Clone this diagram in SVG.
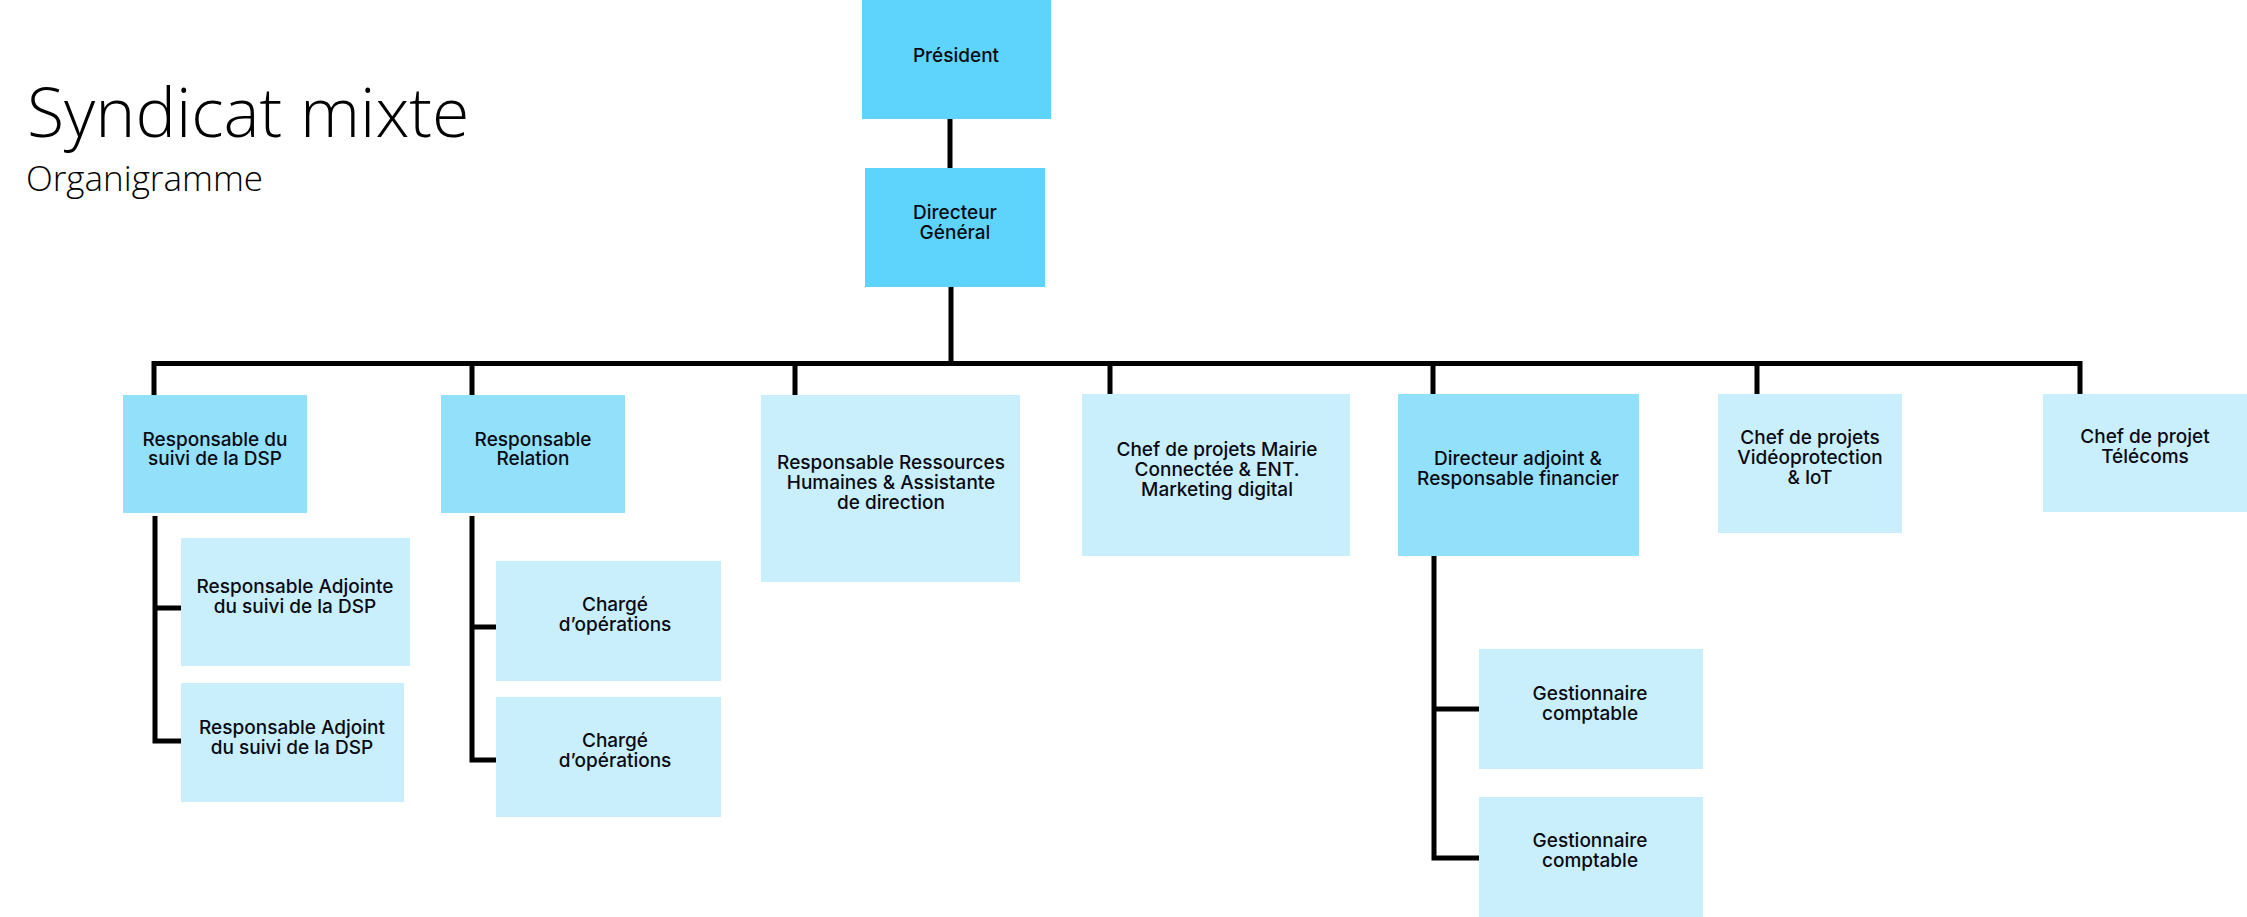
<svg xmlns="http://www.w3.org/2000/svg" width="2247" height="917" viewBox="0 0 2247 917">
<style>
.t{font-family:Inter,"Noto Sans","Liberation Sans",sans-serif;font-weight:500;font-size:19px;fill:#0a0a14;text-anchor:middle}
.l1{fill:#5ed4fd}
.l2{fill:#93e0fb}
.l3{fill:#c9effc}
.c{fill:none;stroke:#000;stroke-width:5;stroke-linejoin:miter;stroke-linecap:butt}
.title{font-family:"Open Sans","Noto Sans",sans-serif;font-weight:300;fill:#000}
</style>
<rect width="2247" height="917" fill="#fff"/>
<g id="title">
<text class="title" x="27" y="137" font-size="68">Syndicat mixte</text>
<text class="title" x="26" y="191" font-size="35">Organigramme</text>
</g>
<g id="connectors">
<path class="c" d="M950 119V168"/>
<path class="c" d="M951 287V363"/>
<path class="c" d="M154 395V363.5H2080V395"/>
<path class="c" d="M472 363V395M795 363V395M1110 363V395M1433 363V395M1757 363V395"/>
<path class="c" d="M155 516V741H181M155 608H181"/>
<path class="c" d="M472 516V760H496M472 627H496"/>
<path class="c" d="M1434 556V858H1479M1434 709H1479"/>
</g>
<g id="president"><rect class="l1" x="862" y="0" width="189" height="119"/><text class="t" x="956" y="62">Président</text></g>
<g id="dg"><rect class="l1" x="865" y="168" width="180" height="119"/><text class="t" x="955" y="219">Directeur</text><text class="t" x="955" y="239">Général</text></g>
<g id="resp-dsp"><rect class="l2" x="123" y="395" width="184" height="118"/><text class="t" x="215" y="446">Responsable du</text><text class="t" x="215" y="465">suivi de la DSP</text></g>
<g id="resp-relation"><rect class="l2" x="441" y="395" width="184" height="118"/><text class="t" x="533" y="446">Responsable</text><text class="t" x="533" y="465">Relation</text></g>
<g id="resp-rh"><rect class="l3" x="761" y="395" width="259" height="187"/><text class="t" x="891" y="469">Responsable Ressources</text><text class="t" x="891" y="489">Humaines &amp; Assistante</text><text class="t" x="891" y="509">de direction</text></g>
<g id="chef-mairie"><rect class="l3" x="1082" y="394" width="268" height="162"/><text class="t" x="1217" y="456">Chef de projets Mairie</text><text class="t" x="1217" y="476">Connectée &amp; ENT.</text><text class="t" x="1217" y="496">Marketing digital</text></g>
<g id="dir-adjoint"><rect class="l2" x="1398" y="394" width="241" height="162"/><text class="t" x="1518" y="465">Directeur adjoint &amp;</text><text class="t" x="1518" y="485">Responsable financier</text></g>
<g id="chef-video"><rect class="l3" x="1718" y="394" width="184" height="139"/><text class="t" x="1810" y="444">Chef de projets</text><text class="t" x="1810" y="464">Vidéoprotection</text><text class="t" x="1810" y="484">&amp; IoT</text></g>
<g id="chef-telecoms"><rect class="l3" x="2043" y="394" width="204" height="118"/><text class="t" x="2145" y="443">Chef de projet</text><text class="t" x="2145" y="463">Télécoms</text></g>
<g id="resp-adjointe"><rect class="l3" x="181" y="538" width="229" height="128"/><text class="t" x="295" y="593">Responsable Adjointe</text><text class="t" x="295" y="613">du suivi de la DSP</text></g>
<g id="resp-adjoint"><rect class="l3" x="181" y="683" width="223" height="119"/><text class="t" x="292" y="734">Responsable Adjoint</text><text class="t" x="292" y="754">du suivi de la DSP</text></g>
<g id="charge-1"><rect class="l3" x="496" y="561" width="225" height="120"/><text class="t" x="615" y="611">Chargé</text><text class="t" x="615" y="631">d’opérations</text></g>
<g id="charge-2"><rect class="l3" x="496" y="697" width="225" height="120"/><text class="t" x="615" y="747">Chargé</text><text class="t" x="615" y="767">d’opérations</text></g>
<g id="gest-1"><rect class="l3" x="1479" y="649" width="224" height="120"/><text class="t" x="1590" y="700">Gestionnaire</text><text class="t" x="1590" y="720">comptable</text></g>
<g id="gest-2"><rect class="l3" x="1479" y="797" width="224" height="120"/><text class="t" x="1590" y="847">Gestionnaire</text><text class="t" x="1590" y="867">comptable</text></g>
</svg>
